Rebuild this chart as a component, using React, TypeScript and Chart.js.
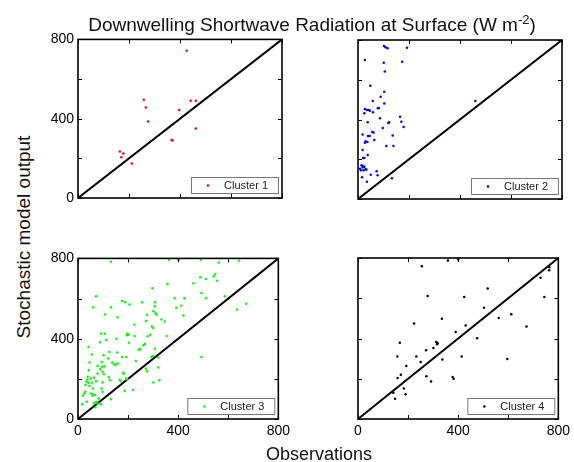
import React, { useEffect, useRef } from "react";
import { Chart, registerables } from "chart.js";

Chart.register(...registerables);

// ---------- data ----------
const AXIS_MIN = 0;
const AXIS_MAX = 800;
const TICK_MARKS = [0, 200, 400, 600, 800];
const TICK_LABELS = [0, 400, 800];
const ONE_TO_ONE_X = [0, 800];
const ONE_TO_ONE_Y = [0, 800];

const TITLE_MAIN = "Downwelling Shortwave Radiation at Surface (W m";
const TITLE_SUP = "-2";
const TITLE_END = ")";
const X_LABEL = "Observations";
const Y_LABEL = "Stochastic model output";

const CLUSTER_NAMES = ["Cluster 1", "Cluster 2", "Cluster 3", "Cluster 4"];

const cluster1Obs = [426, 258, 266, 275, 397, 442, 462, 462, 367, 371, 164, 178, 170, 211];
const cluster1Model = [743, 495, 456, 386, 444, 491, 491, 350, 293, 290, 235, 225, 206, 174];

const cluster2Obs = [
  102, 108, 116, 192, 27, 101, 173, 105, 48, 103, 89, 58, 103, 82, 78, 27, 35, 43, 47, 59,
  25, 460, 165, 86, 170, 122, 119, 38, 179, 97, 18, 56, 61, 39, 46, 136, 64, 30, 37, 27,
  111, 139, 18, 38, 25, 20, 14, 20, 18, 25, 30, 12, 22, 8, 33, 50, 73, 77, 16, 35, 133,
];
const cluster2Model = [
  770, 763, 758, 761, 699, 686, 691, 642, 570, 540, 515, 493, 481, 458, 456, 453, 448, 448, 444, 436,
  431, 493, 414, 406, 389, 386, 382, 386, 362, 357, 325, 337, 334, 317, 317, 319, 297, 290, 287, 283,
  267, 267, 247, 221, 206, 206, 170, 165, 158, 162, 150, 145, 145, 152, 148, 122, 139, 119, 109, 87, 104,
];

const cluster3Obs = [
  131, 363, 399, 403, 490, 562, 644, 548, 542, 488, 510, 556, 461, 357, 297, 493, 586, 511, 425, 386,
  72, 176, 189, 308, 256, 132, 61, 206, 392, 412, 307, 672, 635, 301, 309, 314, 421, 108, 276, 158,
  333, 346, 271, 225, 295, 301, 92, 107, 203, 197, 195, 226, 278, 289, 354, 112, 153, 88, 204, 267,
  261, 248, 242, 307, 42, 125, 157, 55, 102, 176, 193, 293, 298, 320, 231, 120, 46, 94, 137, 152,
  144, 159, 78, 105, 95, 43, 89, 271, 276, 320, 98, 103, 180, 183, 78, 39, 50, 38, 64, 72,
  123, 127, 166, 171, 192, 197, 33, 42, 30, 55, 46, 98, 94, 98, 60, 187, 220, 301, 325, 52,
  61, 69, 58, 20, 25, 29, 82, 73, 131, 64, 35, 17, 78, 92, 69, 493,
];
const cluster3Model = [
  783, 793, 793, 793, 793, 780, 788, 722, 711, 706, 697, 689, 676, 673, 651, 628, 612, 602, 602, 602,
  612, 588, 582, 582, 582, 557, 557, 570, 554, 564, 562, 574, 545, 537, 527, 519, 516, 521, 519, 507,
  496, 486, 488, 469, 461, 453, 425, 425, 421, 425, 417, 413, 412, 420, 413, 393, 400, 382, 380, 374,
  367, 347, 345, 350, 359, 334, 331, 321, 317, 309, 309, 309, 314, 306, 289, 301, 281, 284, 281, 271,
  271, 276, 264, 263, 260, 243, 248, 251, 238, 256, 235, 223, 231, 226, 226, 210, 202, 195, 205, 188,
  208, 193, 195, 188, 202, 198, 185, 180, 169, 180, 165, 182, 152, 136, 152, 140, 145, 182, 193, 127,
  124, 119, 116, 116, 127, 136, 102, 86, 99, 78, 86, 73, 76, 73, 58, 309,
];

const cluster4Obs = [
  359, 400, 255, 278, 424, 518, 503, 335, 224, 430, 390, 476, 167, 562, 612, 673, 729, 763, 764, 744,
  312, 318, 316, 301, 272, 233, 157, 250, 337, 414, 193, 596, 171, 158, 273, 378, 382, 292, 183, 141,
  190, 148,
];
const cluster4Model = [
  788, 793, 759, 611, 606, 648, 553, 498, 474, 465, 432, 401, 379, 502, 520, 460, 702, 739, 754, 606,
  383, 378, 371, 353, 341, 311, 311, 283, 296, 311, 263, 298, 220, 204, 212, 209, 200, 186, 151, 131,
  123, 101,
];

// ---------- layout / style ----------
const FONT = "'Liberation Sans', Arial, Helvetica, sans-serif";
const AXIS_W = 40;
const AXIS_H = 26;
const PAD_T = 12;
const PAD_R = 12;

type PanelCfg = {
  name: string;
  color: string;
  xs: number[];
  ys: number[];
  left: number;
  top: number;
  w: number;
  h: number;
  showX: boolean;
  showY: boolean;
};

const PANELS: PanelCfg[] = [
  { name: CLUSTER_NAMES[0], color: "#ff0000", xs: cluster1Obs, ys: cluster1Model, left: 78, top: 39, w: 204, h: 159, showX: false, showY: true },
  { name: CLUSTER_NAMES[1], color: "#0000ff", xs: cluster2Obs, ys: cluster2Model, left: 358, top: 40, w: 204, h: 159, showX: false, showY: false },
  { name: CLUSTER_NAMES[2], color: "#00ff00", xs: cluster3Obs, ys: cluster3Model, left: 78, top: 258, w: 204, h: 161, showX: true, showY: true },
  { name: CLUSTER_NAMES[3], color: "#000000", xs: cluster4Obs, ys: cluster4Model, left: 358, top: 258, w: 204, h: 161, showX: true, showY: false },
];

const framePlugin = {
  id: "matlabFrame",
  afterDatasetsDraw(chart: any, _args: any, opts: any) {
    const { ctx, chartArea: a, scales } = chart;
    const sx = scales.x;
    const sy = scales.y;
    ctx.save();
    ctx.strokeStyle = "#000";
    ctx.lineWidth = 1;
    const TL = 4;
    ctx.beginPath();
    for (const v of TICK_MARKS) {
      const px = Math.round(sx.getPixelForValue(v)) + 0.5;
      ctx.moveTo(px, a.bottom);
      ctx.lineTo(px, a.bottom - TL);
      ctx.moveTo(px, a.top);
      ctx.lineTo(px, a.top + TL);
      const py = Math.round(sy.getPixelForValue(v)) + 0.5;
      ctx.moveTo(a.left, py);
      ctx.lineTo(a.left + TL, py);
      ctx.moveTo(a.right, py);
      ctx.lineTo(a.right - TL, py);
    }
    ctx.stroke();
    ctx.lineWidth = 1.6;
    ctx.strokeRect(a.left, a.top, a.right - a.left, a.bottom - a.top);

    // legend box (bottom-right inside the axes)
    const bw = 87;
    const bh = 16;
    const bx = a.right - 4 - bw;
    const by = a.bottom - 5 - bh;
    ctx.fillStyle = "#fff";
    ctx.fillRect(bx, by, bw, bh);
    ctx.strokeStyle = "#7a7a7a";
    ctx.lineWidth = 1;
    ctx.strokeRect(bx + 0.5, by + 0.5, bw, bh);
    ctx.fillStyle = opts.color;
    ctx.beginPath();
    ctx.arc(bx + 17, by + bh / 2 + 0.5, 1.3, 0, Math.PI * 2);
    ctx.fill();
    ctx.fillStyle = "#222";
    ctx.font = `11px ${FONT}`;
    ctx.textBaseline = "middle";
    ctx.textAlign = "left";
    ctx.fillText(opts.label, bx + 33, by + bh / 2 + 1);
    ctx.restore();
  },
};

function Panel({ cfg }: { cfg: PanelCfg }) {
  const ref = useRef<HTMLCanvasElement>(null);
  useEffect(() => {
    const tickFont = { family: FONT, size: 14 };
    const chart = new Chart(ref.current as HTMLCanvasElement, {
      type: "scatter",
      data: {
        datasets: [
          {
            label: "1:1",
            data: ONE_TO_ONE_X.map((x, i) => ({ x, y: ONE_TO_ONE_Y[i] })),
            showLine: true,
            borderColor: "#000",
            borderWidth: 2,
            pointRadius: 0,
            order: 2,
          } as any,
          {
            label: cfg.name,
            data: cfg.xs.map((x, i) => ({ x, y: cfg.ys[i] })),
            pointRadius: 1.25,
            pointBorderWidth: 0,
            pointBackgroundColor: cfg.color,
            backgroundColor: cfg.color,
            borderColor: cfg.color,
            order: 1,
          } as any,
        ],
      },
      options: {
        responsive: false,
        animation: false,
        events: [],
        layout: { padding: { left: 0, top: PAD_T, right: PAD_R, bottom: 0 } },
        plugins: {
          legend: { display: false },
          tooltip: { enabled: false },
          title: { display: false },
          matlabFrame: { color: cfg.color, label: cfg.name },
        } as any,
        scales: {
          x: {
            type: "linear",
            min: AXIS_MIN,
            max: AXIS_MAX,
            afterBuildTicks: (s: any) => {
              s.ticks = TICK_LABELS.map((v) => ({ value: v }));
            },
            afterFit: (s: any) => {
              s.height = AXIS_H;
            },
            ticks: {
              display: cfg.showX,
              font: tickFont,
              color: "#000",
              padding: 4,
              maxRotation: 0,
              autoSkip: false,
            },
            grid: { display: false, drawTicks: false },
            border: { display: false },
          },
          y: {
            type: "linear",
            min: AXIS_MIN,
            max: AXIS_MAX,
            afterBuildTicks: (s: any) => {
              s.ticks = TICK_LABELS.map((v) => ({ value: v }));
            },
            afterFit: (s: any) => {
              s.width = AXIS_W;
            },
            ticks: {
              display: cfg.showY,
              font: tickFont,
              color: "#000",
              padding: 4,
              autoSkip: false,
            },
            grid: { display: false, drawTicks: false },
            border: { display: false },
          },
        },
      } as any,
      plugins: [framePlugin],
    });
    return () => chart.destroy();
  }, [cfg]);
  const W = AXIS_W + cfg.w + PAD_R;
  const H = PAD_T + cfg.h + AXIS_H;
  return (
    <canvas
      ref={ref}
      width={W}
      height={H}
      style={{ position: "absolute", left: cfg.left - AXIS_W, top: cfg.top - PAD_T, width: W, height: H }}
    />
  );
}

export default function App() {
  const textBase: React.CSSProperties = {
    position: "absolute",
    fontFamily: FONT,
    fontSize: 18,
    lineHeight: "18px",
    color: "#111",
    whiteSpace: "nowrap",
  };
  return (
    <div
      style={{
        position: "absolute",
        left: 0,
        top: 0,
        width: 574,
        height: 462,
        background: "#fff",
        overflow: "hidden",
      }}
    >
      {PANELS.map((p) => (
        <Panel key={p.name} cfg={p} />
      ))}
      <div style={{ ...textBase, fontSize: 19, lineHeight: "19px", left: 312, top: 15, transform: "translateX(-50%)" }}>
        {TITLE_MAIN}
        <span style={{ fontSize: 13, position: "relative", top: -7 }}>{TITLE_SUP}</span>
        {TITLE_END}
      </div>
      <div style={{ ...textBase, left: 319, top: 445, transform: "translateX(-50%)" }}>{X_LABEL}</div>
      <div
        style={{
          ...textBase,
          fontSize: 19,
          lineHeight: "19px",
          left: 23,
          top: 237,
          transform: "translate(-50%, -50%) rotate(-90deg)",
        }}
      >
        {Y_LABEL}
      </div>
    </div>
  );
}
